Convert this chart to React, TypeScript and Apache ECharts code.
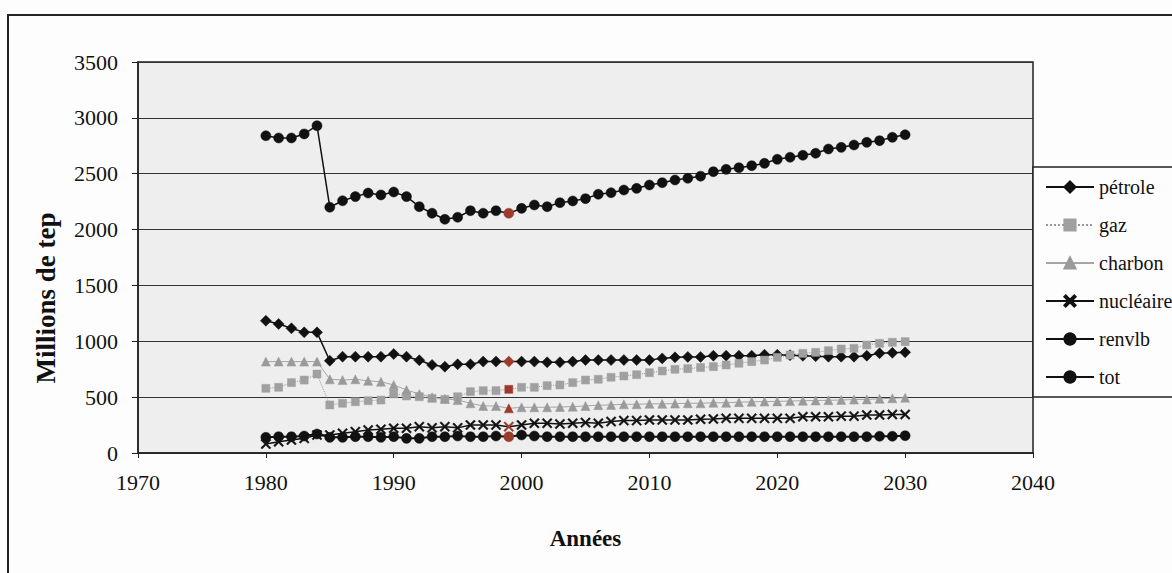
import React, { useEffect, useRef } from "react";
import * as echarts from "echarts";

const years = [
  1980, 1981, 1982, 1983, 1984, 1985, 1986, 1987, 1988, 1989,
  1990, 1991, 1992, 1993, 1994, 1995, 1996, 1997, 1998, 1999,
  2000, 2001, 2002, 2003, 2004, 2005, 2006, 2007, 2008, 2009,
  2010, 2011, 2012, 2013, 2014, 2015, 2016, 2017, 2018, 2019,
  2020, 2021, 2022, 2023, 2024, 2025, 2026, 2027, 2028, 2029, 2030,
];

const petrole = [
  1184, 1155, 1116, 1080, 1080, 826, 862, 862, 862, 862,
  886, 862, 830, 788, 773, 794, 794, 818, 818, 818,
  818, 818, 812, 812, 818, 832, 832, 832, 832, 832,
  832, 847, 856, 860, 860, 871, 871, 871, 871, 880,
  880, 875, 870, 866, 862, 862, 862, 871, 893, 897, 901,
];

const gaz = [
  579, 588, 630, 653, 707, 430, 445, 459, 468, 474,
  530, 510, 504, 489, 480, 504, 549, 558, 558, 570,
  588, 588, 603, 609, 630, 653, 660, 678, 689, 701,
  719, 734, 749, 755, 765, 773, 788, 803, 818, 832,
  856, 877, 892, 901, 916, 931, 937, 967, 982, 991, 997,
];

const charbon = [
  818, 818, 818, 818, 818, 660, 653, 660, 646, 638,
  609, 564, 528, 500, 485, 474, 445, 421, 421, 400,
  409, 409, 409, 412, 415, 421, 428, 430, 436, 436,
  440, 440, 442, 445, 445, 450, 450, 455, 458, 460,
  462, 465, 468, 470, 472, 475, 478, 480, 485, 490, 495,
];

const nucleaire = [
  80, 101, 116, 131, 161, 161, 176, 191, 206, 212,
  221, 221, 236, 225, 236, 225, 251, 251, 251, 236,
  251, 266, 266, 260, 266, 272, 266, 281, 290, 290,
  296, 296, 296, 296, 302, 305, 310, 310, 310, 310,
  310, 310, 325, 325, 325, 330, 330, 340, 340, 345, 345,
];

const renvlb = [
  140, 146, 146, 152, 170, 140, 140, 146, 146, 140,
  146, 131, 131, 146, 146, 152, 146, 146, 152, 146,
  161, 152, 146, 146, 146, 146, 146, 146, 146, 146,
  146, 146, 146, 146, 146, 146, 146, 146, 146, 146,
  146, 146, 146, 146, 146, 146, 146, 146, 150, 150, 155,
];

const tot = [
  2840, 2820, 2820, 2856, 2930, 2200, 2258, 2295, 2327, 2310,
  2336, 2295, 2205, 2146, 2092, 2110, 2169, 2146, 2169, 2146,
  2190, 2220, 2205, 2241, 2256, 2277, 2316, 2330, 2354, 2369,
  2399, 2420, 2444, 2459, 2478, 2518, 2539, 2554, 2572, 2593,
  2629, 2647, 2665, 2683, 2721, 2736, 2757, 2781, 2796, 2826, 2849,
];

const seriesNames = ["pétrole", "gaz", "charbon", "nucléaire", "renvlb", "tot"];
const xTitle = "Années";
const yTitle = "Millions de tep";
const highlightYear = 1999;

const FONT = "'Liberation Serif', 'Times New Roman', serif";
const X_SYMBOL =
  "path://M0,1.2L1.2,0L5,3.8L8.8,0L10,1.2L6.2,5L10,8.8L8.8,10L5,6.2L1.2,10L0,8.8L3.8,5Z";

function toData(values: number[]) {
  return values.map((v, i) =>
    years[i] === highlightYear
      ? { value: [years[i], v], itemStyle: { color: "#9c3a2c", borderColor: "#9c3a2c" } }
      : { value: [years[i], v] }
  );
}

export default function App() {
  const ref = useRef<HTMLDivElement>(null);

  useEffect(() => {
    if (!ref.current) return;
    const chart = echarts.init(ref.current, undefined, { renderer: "svg" });

    const mk = (
      name: string,
      values: number[],
      symbol: string,
      size: number,
      color: string,
      lineColor: string,
      lineWidth: number,
      lineType: string = "solid"
    ) => ({
      name,
      type: "line",
      data: toData(values),
      symbol,
      symbolSize: size,
      showAllSymbol: true,
      itemStyle: { color, borderColor: color, borderWidth: 0.5 },
      lineStyle: { color: lineColor, width: lineWidth, type: lineType },
      emphasis: { disabled: true },
      z: 3,
    });

    chart.setOption({
      animation: false,
      backgroundColor: "#fdfdfd",
      textStyle: { fontFamily: FONT },
      grid: {
        left: 138,
        right: 139,
        top: 62,
        bottom: 120,
        show: true,
        backgroundColor: "#eeeeee",
        borderColor: "#222",
        borderWidth: 1.5,
      },
      xAxis: {
        type: "value",
        min: 1970,
        max: 2040,
        interval: 10,
        name: xTitle,
        nameLocation: "middle",
        nameGap: 74,
        nameTextStyle: { fontFamily: FONT, fontSize: 23, fontWeight: "bold", color: "#111" },
        axisLine: { show: true, onZero: false, lineStyle: { color: "#222", width: 1.5 } },
        axisTick: { show: true, inside: false, length: 5, lineStyle: { color: "#222" } },
        axisLabel: {
          fontFamily: FONT,
          fontSize: 22,
          color: "#111",
          margin: 18,
          formatter: (v: number) => String(v),
        },
        splitLine: { show: false },
      },
      yAxis: {
        type: "value",
        min: 0,
        max: 3500,
        interval: 500,
        axisLine: { show: true, lineStyle: { color: "#222", width: 1.5 } },
        axisTick: { show: true, inside: false, length: 6, lineStyle: { color: "#222" } },
        axisLabel: {
          fontFamily: FONT,
          fontSize: 22,
          color: "#111",
          margin: 20,
          formatter: (v: number) => String(v),
        },
        splitLine: { show: true, lineStyle: { color: "#333", width: 1.2 } },
      },
      legend: {
        orient: "vertical",
        left: 1040,
        top: 172,
        itemWidth: 48,
        itemHeight: 14,
        itemGap: 18,
        textStyle: { fontFamily: FONT, fontSize: 20, color: "#111" },
        data: seriesNames,
      },
      graphic: [
        {
          type: "rect",
          z: 0,
          silent: true,
          shape: { x: 8, y: 15, width: 1200, height: 600 },
          style: { fill: "none", stroke: "#222", lineWidth: 2 },
        },
        {
          type: "rect",
          z: 3,
          silent: true,
          shape: { x: 1033, y: 167, width: 200, height: 230 },
          style: { fill: "#fdfdfd", stroke: "#222", lineWidth: 1.5 },
        },
        {
          type: "text",
          z: 5,
          silent: true,
          x: 46,
          y: 298,
          rotation: Math.PI / 2,
          style: {
            text: yTitle,
            fontFamily: FONT,
            fontSize: 27,
            fontWeight: "bold",
            fill: "#111",
            align: "center",
            verticalAlign: "middle",
          },
        },
      ],
      series: [
        mk(seriesNames[0], petrole, "diamond", 11, "#111", "#111", 1.5),
        mk(seriesNames[1], gaz, "rect", 8, "#a0a0a0", "#999999", 1, "dotted"),
        mk(seriesNames[2], charbon, "triangle", 9, "#9a9a9a", "#a5a5a5", 1),
        mk(seriesNames[3], nucleaire, X_SYMBOL, 10, "#111", "#111", 1.5),
        mk(seriesNames[4], renvlb, "circle", 10, "#111", "#111", 2),
        mk(seriesNames[5], tot, "circle", 10, "#111", "#111", 1.5),
      ],
    });

    return () => chart.dispose();
  }, []);

  return (
    <div
      ref={ref}
      style={{ position: "absolute", left: 0, top: 0, width: 1172, height: 573 }}
    />
  );
}
